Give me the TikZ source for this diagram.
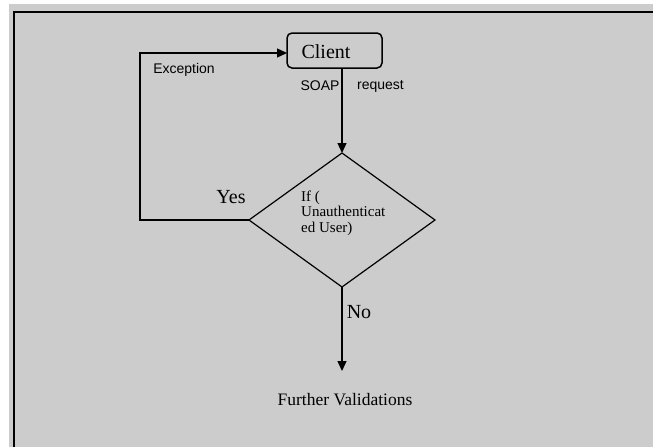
\documentclass[tikz,border=0pt]{standalone}
\usepackage{fontspec}
\setmainfont{Liberation Serif}
\newfontfamily\arialfont{Liberation Sans}
\usetikzlibrary{arrows.meta,shapes.geometric}
\definecolor{bggray}{RGB}{204,204,204}
\tikzset{
  conn/.style={line width=1.3pt, draw=black},
  arr/.style={conn, -{Triangle[length=10pt,width=9pt]}},
  serif20/.style={font=\fontsize{20}{22}\selectfont, inner sep=0pt},
  sanslbl/.style={font=\arialfont\fontsize{14}{16}\selectfont, inner sep=0pt},
}
\begin{document}
\begin{tikzpicture}[x=1pt,y=-1pt]
\useasboundingbox (0,0) rectangle (653,447);
\fill[white] (0,0) rectangle (653,447);
\fill[bggray] (9,4) rectangle (653,447);
\draw[line width=1.5pt] (14,447) -- (14,12) -- (653,12);
% Client box
\node[draw, line width=1.5pt, rounded corners=5pt, minimum width=95pt, minimum height=35pt, inner sep=0pt, outer sep=0pt] (client) at (334.5,50.5) {};
\node[serif20, anchor=center] (clienttxt) at (326,52) {Client};
% decision diamond
\coordinate (dc) at (342,220);
\node[draw, line width=1.2pt, diamond, minimum width=186pt, minimum height=134pt, inner sep=0pt, outer sep=0pt] (dec) at (dc) {};
\node[anchor=north west, inner sep=0pt, align=left, font=\fontsize{15}{15.5}\selectfont] (dectxt) at (301,190.5) {If (\\Unauthenticat\\ed User)};
% connectors
\coordinate (topstart) at (342,68);
\draw[arr] (topstart) -- (dec.north);
\coordinate (loopbl) at (140,220);
\coordinate (looptl) at (140,53);
\draw[arr] (dec.west) -- (loopbl) -- (looptl) -- (client.west |- looptl);
\coordinate (bottomend) at (342,371);
\draw[arr] (dec.south) -- (bottomend);
% labels
\node[sanslbl] (exc) at (184,70) {Exception};
\node[sanslbl] (soap) at (320,86) {SOAP};
\node[sanslbl] (req) at (380.5,86) {request};
\node[serif20] (yes) at (231,197) {Yes};
\node[serif20] (no) at (359,312) {No};
\node[inner sep=0pt, font=\fontsize{17.5}{19}\selectfont] (further) at (345,400) {Further Validations};
\end{tikzpicture}
\end{document}
